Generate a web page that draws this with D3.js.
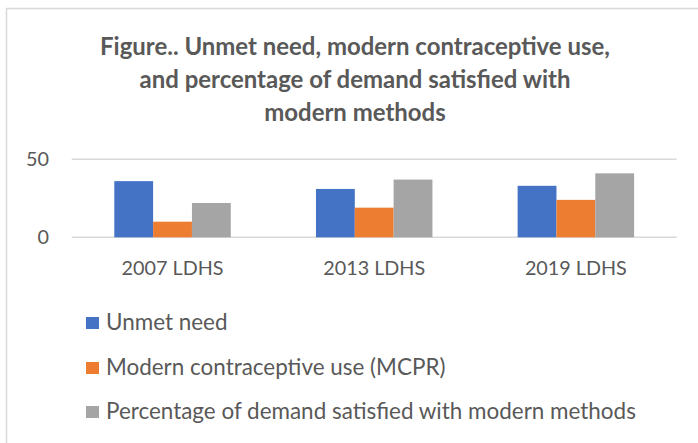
<!DOCTYPE html>
<html>
<head>
<meta charset="utf-8">
<script src="https://cdn.jsdelivr.net/npm/d3@7"></script>
<style>
  body { margin: 0; background: #fff; }
  svg { display: block; font-family: Lato, "Open Sans", sans-serif; }
</style>
</head>
<body>
<div id="container"></div>
<script>
const width = 698;
const height = 443;

// chart data
const surveys = ["2007 LDHS", "2013 LDHS", "2019 LDHS"];
const seriesNames = ["Unmet need", "Modern contraceptive use (MCPR)", "Percentage of demand satisfied with modern methods"];
const unmetNeed = [36, 31, 33];
const mcpr = [10, 19, 24];
const demandSatisfied = [22, 37, 41];
const yTicks = [0, 50];
const titleLines = ["Figure.. Unmet need, modern contraceptive use,", "and percentage of demand satisfied with", "modern methods"];

const colors = ["#4472C4", "#ED7D31", "#A5A5A5"];
const textColor = "#595959";
const seriesValues = [unmetNeed, mcpr, demandSatisfied];

let svg = d3.select("#container")
  .append("svg")
  .attr("width", width)
  .attr("height", height);

// chart area border (cut off at the right and bottom)
svg.append("rect")
  .attr("x", 6.5).attr("y", 8.5)
  .attr("width", 760).attr("height", 500)
  .attr("fill", "#fff")
  .attr("stroke", "#d9d9d9")
  .attr("stroke-width", 1.5);

// shrink/grow font so a text gets the wanted width
function fitText(sel, target) {
  const w = sel.node().getComputedTextLength();
  const s = parseFloat(sel.attr("font-size"));
  sel.attr("font-size", (s * target / w).toFixed(2));
  return s * target / w;
}

// title
let title = svg.append("g").attr("fill", textColor).attr("font-weight", "bold").attr("text-anchor", "middle");
const titleBase = [55, 88, 121];
let titleRows = title.selectAll("text")
  .data(titleLines)
  .enter()
  .append("text")
  .attr("x", 355)
  .attr("y", (d, i) => titleBase[i])
  .attr("font-size", 22)
  .text(d => d);
const tSize = fitText(d3.select(titleRows.nodes()[0]), 510);
titleRows.attr("font-size", tSize.toFixed(2));

// scales
const x0 = d3.scaleBand()
  .domain(surveys)
  .range([71.7, 676.7])
  .paddingInner(0.4225)
  .paddingOuter(0.21125);

const x1 = d3.scaleBand()
  .domain(d3.range(seriesNames.length))
  .range([0, x0.bandwidth()]);

const y = d3.scaleLinear()
  .domain([0, 50])
  .range([237.3, 159.3]);

// gridlines
svg.append("g")
  .selectAll("line")
  .data(yTicks)
  .enter()
  .append("line")
  .attr("x1", 71.7).attr("x2", 676.7)
  .attr("y1", d => y(d)).attr("y2", d => y(d))
  .attr("stroke", "#d9d9d9")
  .attr("stroke-width", 1.5);

// y tick labels
let yLabels = svg.append("g")
  .selectAll("text")
  .data(yTicks)
  .enter()
  .append("text")
  .attr("x", 49)
  .attr("y", d => y(d))
  .attr("dy", "0.35em")
  .attr("text-anchor", "end")
  .attr("fill", textColor)
  .attr("font-size", 20)
  .text(d => d);
const ySize = fitText(d3.select(yLabels.nodes()[1]), 23);
yLabels.attr("font-size", ySize.toFixed(2));

// bars
let groups = svg.append("g")
  .selectAll("g")
  .data(surveys)
  .enter()
  .append("g")
  .attr("transform", d => "translate(" + x0(d) + ",0)");

groups.selectAll("rect")
  .data((d, i) => seriesValues.map((vals, k) => ({ k: k, v: vals[i] })))
  .enter()
  .append("rect")
  .attr("x", d => x1(d.k))
  .attr("y", d => y(d.v))
  .attr("width", x1.bandwidth())
  .attr("height", d => y(0) - y(d.v))
  .attr("fill", d => colors[d.k]);

// category labels
let xLabels = svg.append("g")
  .selectAll("text")
  .data(surveys)
  .enter()
  .append("text")
  .attr("x", d => x0(d) + x0.bandwidth() / 2)
  .attr("y", 275)
  .attr("text-anchor", "middle")
  .attr("fill", textColor)
  .attr("font-size", 20)
  .text(d => d);
const xSize = fitText(d3.select(xLabels.nodes()[0]), 102);
xLabels.attr("font-size", xSize.toFixed(2));

// legend
const legendRows = [323, 368, 412];
let legend = svg.append("g")
  .selectAll("g")
  .data(seriesNames)
  .enter()
  .append("g")
  .attr("transform", (d, i) => "translate(86," + legendRows[i] + ")");

legend.append("rect")
  .attr("x", 0).attr("y", -6)
  .attr("width", 13).attr("height", 12)
  .attr("fill", (d, i) => colors[i]);

let legendText = legend.append("text")
  .attr("x", 20)
  .attr("y", 0)
  .attr("dy", "0.33em")
  .attr("fill", textColor)
  .attr("font-size", 20)
  .text(d => d);
const lSize = fitText(d3.select(legendText.nodes()[2]), 530);
legendText.attr("font-size", lSize.toFixed(2));
</script>
</body>
</html>
